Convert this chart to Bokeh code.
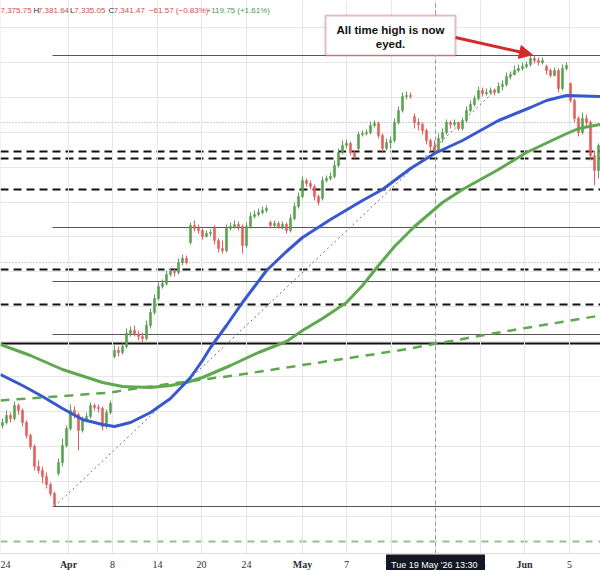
from bokeh.plotting import figure
from bokeh.models import (Range1d, FixedTicker, Span, Label, BoxAnnotation, Arrow,
                          NormalHead, ColumnDataSource, Grid)
from bokeh.embed import file_html
from bokeh.resources import INLINE

# ---------------- data (price units, one candle per bar) ----------------
opens = [6501, 6510, 6531, 6522, 6561, 6546, 6510, 6471, 6438, 6378,
         6366, 6348, 6324, 6297, 6357, 6390, 6441, 6492, 6546, 6534,
         6486, 6516, 6528, 6561, 6555, 6552, 6498, 6540, 6708, 6726,
         6720, 6738, 6777, 6786, 6774, 6768, 6762, 6801, 6840, 6882,
         6918, 6927, 6954, 6963, 6960, 6990, 7002, 7050, 7101, 7092,
         7086, 7068, 7077, 7092, 7056, 7032, 7026, 7092, 7098, 7104,
         7098, 7041, 7098, 7128, 7134, 7140, 7146, 7110, 7101, 7107,
         7098, 7104, 7086, 7122, 7158, 7188, 7236, 7227, 7218, 7188,
         7182, 7236, 7242, 7248, 7281, 7320, 7341, 7347, 7320, 7332,
         7374, 7377, 7380, 7401, 7407, 7371, 7332, 7350, 7356, 7410,
         7446, 7488, 7491, 7428, 7410, 7404, 7386, 7356, 7338, 7326,
         7362, 7380, 7410, 7404, 7410, 7392, 7416, 7446, 7464, 7482,
         7506, 7497, 7500, 7506, 7500, 7518, 7524, 7548, 7554, 7566,
         7572, 7578, 7584, 7602, 7596, 7590, 7578, 7566, 7551, 7566,
         7512, 7572, 7527, 7476, 7422, 7380, 7422, 7410, 7311, 7266]
closes = [6510, 6531, 6522, 6561, 6546, 6510, 6471, 6438, 6378, 6366,
          6348, 6324, 6297, 6264, 6390, 6441, 6492, 6546, 6534, 6486,
          6516, 6528, 6561, 6555, 6552, 6498, 6540, 6567, 6726, 6720,
          6738, 6777, 6786, 6774, 6768, 6762, 6801, 6840, 6882, 6918,
          6927, 6954, 6963, 6960, 6990, 7002, 6990, 7101, 7092, 7086,
          7068, 7077, 7080, 7056, 7032, 7026, 7092, 7098, 7104, 7098,
          7041, 7098, 7128, 7134, 7140, 7146, 7152, 7101, 7107, 7098,
          7104, 7086, 7122, 7158, 7188, 7236, 7227, 7218, 7188, 7170,
          7236, 7242, 7248, 7281, 7320, 7341, 7347, 7320, 7308, 7374,
          7377, 7380, 7401, 7407, 7371, 7332, 7350, 7356, 7410, 7446,
          7488, 7491, 7488, 7410, 7404, 7386, 7356, 7338, 7326, 7362,
          7380, 7410, 7404, 7410, 7392, 7416, 7446, 7464, 7482, 7506,
          7497, 7500, 7506, 7500, 7518, 7524, 7548, 7554, 7566, 7572,
          7578, 7584, 7602, 7596, 7590, 7596, 7566, 7551, 7566, 7512,
          7572, 7581, 7476, 7422, 7380, 7422, 7410, 7311, 7266, 7341]
highs = [6522, 6546, 6540, 6573, 6567, 6552, 6516, 6477, 6444, 6396,
         6378, 6360, 6330, 6303, 6402, 6462, 6501, 6564, 6558, 6540,
         6528, 6540, 6570, 6567, 6564, 6558, 6549, 6576, 6741, 6738,
         6747, 6792, 6798, 6801, 6786, 6780, 6816, 6852, 6894, 6930,
         6939, 6966, 6972, 6972, 7002, 7014, 7011, 7110, 7116, 7104,
         7092, 7086, 7089, 7101, 7062, 7056, 7104, 7110, 7116, 7113,
         7104, 7110, 7140, 7146, 7152, 7158, 7161, 7116, 7116, 7113,
         7113, 7110, 7134, 7170, 7200, 7248, 7242, 7236, 7224, 7194,
         7248, 7251, 7260, 7296, 7332, 7356, 7359, 7353, 7326, 7383,
         7386, 7389, 7413, 7416, 7413, 7377, 7362, 7368, 7422, 7458,
         7500, 7503, 7500, 7437, 7422, 7410, 7392, 7362, 7356, 7377,
         7392, 7419, 7416, 7419, 7413, 7425, 7458, 7476, 7491, 7518,
         7515, 7512, 7515, 7512, 7530, 7536, 7560, 7563, 7581, 7584,
         7590, 7593, 7611, 7611, 7605, 7605, 7584, 7572, 7575, 7572,
         7584, 7590, 7530, 7482, 7428, 7440, 7434, 7416, 7326, 7347]
lows = [6492, 6504, 6510, 6516, 6534, 6498, 6462, 6429, 6366, 6357,
        6327, 6312, 6288, 6258, 6351, 6378, 6435, 6486, 6522, 6426,
        6480, 6510, 6522, 6546, 6540, 6486, 6492, 6534, 6702, 6708,
        6714, 6732, 6768, 6768, 6756, 6750, 6756, 6792, 6834, 6876,
        6912, 6921, 6948, 6948, 6954, 6981, 6984, 7044, 7083, 7077,
        7059, 7065, 7068, 7044, 7020, 7017, 7020, 7086, 7092, 7086,
        7017, 7035, 7092, 7122, 7128, 7134, 7140, 7092, 7095, 7092,
        7089, 7077, 7080, 7116, 7152, 7182, 7218, 7209, 7176, 7161,
        7176, 7230, 7236, 7242, 7275, 7314, 7332, 7311, 7302, 7326,
        7368, 7371, 7374, 7395, 7362, 7320, 7326, 7332, 7350, 7404,
        7440, 7479, 7482, 7392, 7386, 7374, 7344, 7326, 7320, 7320,
        7350, 7374, 7392, 7398, 7386, 7386, 7410, 7440, 7458, 7476,
        7488, 7491, 7494, 7491, 7497, 7506, 7518, 7539, 7551, 7560,
        7566, 7572, 7578, 7587, 7581, 7584, 7554, 7545, 7548, 7500,
        7506, 7566, 7470, 7410, 7368, 7374, 7398, 7296, 7221, 7242]

# moving averages sampled at bar positions
ma_blue_x = [-0.5, 5, 10, 15, 20, 25, 28, 32, 37, 42, 47, 50, 52, 56, 60, 63, 66, 71,
             75, 82, 90, 95, 102, 108, 115, 124, 132, 136, 141, 149.5]
ma_blue = [6654, 6621, 6588, 6552, 6519, 6504, 6498, 6510, 6540, 6582, 6645, 6696,
           6735, 6801, 6870, 6918, 6966, 7023, 7065, 7119, 7176, 7209, 7272, 7317,
           7356, 7416, 7455, 7476, 7491, 7488]
ma_green_x = [-0.5, 7, 15, 25, 30, 37, 42, 46, 50, 57, 64, 71, 75, 80, 86, 90, 94, 98,
              103, 110, 115, 124, 131, 140, 144, 149.5]
ma_green = [6744, 6711, 6669, 6630, 6618, 6615, 6621, 6630, 6645, 6681, 6720, 6753,
            6786, 6822, 6870, 6921, 6981, 7038, 7098, 7170, 7209, 7269, 7320, 7371,
            7392, 7404]
ma_long_x = [-0.5, 17, 27, 35, 50, 58, 71, 99, 124, 149.5]
ma_long = [6576, 6591, 6600, 6615, 6639, 6651, 6675, 6726, 6780, 6831]

# trend line from the low to near the high
trend_x = [13, 129]
trend_y = [6258, 7572]

# horizontal levels
levels_dashed = [7323, 7302, 7209, 6969, 6864]
levels_thin = [7611, 7095, 6933, 6774, 6258]
levels_dotted = [7410, 6990]
level_thick = 6747
level_green_dashed = 6153

# x axis ticks (bar positions) and their labels
tick_pos = [-0.5, 16.5, 27.5, 38.75, 49.75, 61, 75, 86, 97.25, 108.25, 119.5, 130.5, 141.75]
tick_labels = ["24", "Apr", "8", "14", "20", "24", "May", "7", "13", "19", "25", "Jun", "5"]
grid_y = [7695, 7590, 7485, 7380, 7275, 7170, 7068, 6963, 6858, 6753, 6648, 6543, 6438, 6333, 6228]
crosshair_x = 108.25
crosshair_text = "Tue 19 May '26  13:30"

# OHLC readout of the last bar
hdr_open, hdr_high, hdr_low, hdr_close = "7,375.75", "7,381.64", "7,335.05", "7,341.47"
hdr_chg, hdr_day = "\u221261.57 (\u22120.83%)", "+119.75 (+1.61%)"

Y0, Y1 = 6066, 7776       # full canvas price span
AXIS_TOP = 6117           # where the date strip starts
LABEL_Y = 6084            # centre line of the date labels

UP = "#5b9e54"
DOWN = "#e0605e"
FONT = "Liberation Sans"

p = figure(width=600, height=570, x_range=Range1d(-0.5, 149.5), y_range=Range1d(Y0, Y1),
           output_backend="svg", toolbar_location=None, min_border=0,
           x_axis_location=None, y_axis_location=None, outline_line_color=None,
           background_fill_color="white", border_fill_color="white")
p.xgrid.visible = False
p.ygrid.visible = False

# horizontal grid
p.add_layout(Grid(dimension=1, ticker=FixedTicker(ticks=grid_y), grid_line_color="#e6e6e6"))

# vertical grid lines (stop at the date strip)
p.segment(x0=tick_pos, x1=tick_pos, y0=[AXIS_TOP] * len(tick_pos), y1=[Y1] * len(tick_pos),
          line_color="#e6e6e6", line_width=1)

# horizontal levels
for lv in levels_dashed:
    p.add_layout(Span(location=lv, dimension="width", line_color="#111111", line_width=2,
                      line_dash="8 5", level="underlay"))
for lv in levels_dotted:
    p.add_layout(Span(location=lv, dimension="width", line_color="#9a9a9a", line_width=1,
                      line_dash="1 2", level="underlay"))
p.add_layout(Span(location=level_thick, dimension="width", line_color="#111111", line_width=2,
                  level="underlay"))
p.add_layout(Span(location=level_green_dashed, dimension="width", line_color="#98c08e",
                  line_width=2, line_dash="7 6", level="underlay"))
p.segment(x0=[12.5] * len(levels_thin), x1=[149.5] * len(levels_thin),
          y0=levels_thin, y1=levels_thin, line_color="#555555", line_width=1)

# crosshair
p.segment(x0=[crosshair_x], x1=[crosshair_x], y0=[AXIS_TOP], y1=[Y1], line_color="#9598a1",
          line_width=1, line_dash="4 3")

# trend line
p.line(trend_x, trend_y, line_color="#707070", line_width=1, line_dash="2 3")

# candles
idx = list(range(len(closes)))
colors = [UP if c >= o else DOWN for o, c in zip(opens, closes)]
src = ColumnDataSource(dict(x=idx, o=opens, c=closes, h=highs, l=lows,
                            top=[max(o, c) for o, c in zip(opens, closes)],
                            bot=[min(o, c) for o, c in zip(opens, closes)], col=colors))
p.segment(x0="x", x1="x", y0="l", y1="h", line_color="col", line_width=1, source=src)
p.vbar(x="x", width=0.55, top="top", bottom="bot", fill_color="col", line_color="col",
       line_width=0.5, source=src)

# moving averages
p.line(ma_long_x, ma_long, line_color="#5ea84f", line_width=2.5, line_dash="9 7")
p.line(ma_green_x, ma_green, line_color="#5ea84f", line_width=3)
p.line(ma_blue_x, ma_blue, line_color="#3858d0", line_width=3)

# date strip: separator and tick labels
p.segment(x0=[-0.5], x1=[149.5], y0=[AXIS_TOP], y1=[AXIS_TOP], line_color="#dcdcdc", line_width=1)
months = {"Apr", "May", "Jun"}
day_x = [t for t, l in zip(tick_pos[1:], tick_labels[1:]) if l not in months]
day_t = [l for l in tick_labels[1:] if l not in months]
mon_x = [t for t, l in zip(tick_pos, tick_labels) if l in months]
mon_t = [l for l in tick_labels if l in months]
p.text(x=day_x, y=[LABEL_Y] * len(day_x), text=day_t, text_align="center",
       text_baseline="middle", text_font=FONT, text_font_size="10px", text_color="#2a2e39")
p.text(x=mon_x, y=[LABEL_Y] * len(mon_x), text=mon_t, text_align="center",
       text_baseline="middle", text_font=FONT, text_font_size="10px", text_font_style="bold",
       text_color="#2a2e39")
p.text(x=tick_pos[:1], y=[LABEL_Y], text=tick_labels[:1], text_align="left",
       text_baseline="middle", text_font=FONT, text_font_size="10px", text_color="#2a2e39")

# crosshair date tooltip
p.add_layout(Label(x=crosshair_x, y=LABEL_Y, text=crosshair_text, text_align="center",
                   text_baseline="middle", text_font=FONT, text_font_size="9px",
                   text_color="white", background_fill_color="#131722",
                   background_fill_alpha=1, padding=5))

# annotation box + arrow
p.add_layout(BoxAnnotation(left=80.75, right=113.25, top=7731, bottom=7611,
                           fill_color="white", fill_alpha=1, line_color="#a3262a",
                           line_width=2, level="annotation"))
p.add_layout(Label(x=97, y=7689, text="All time high is now", text_align="center",
                   text_baseline="middle", text_font=FONT, text_font_style="bold",
                   text_font_size="11.5px", text_color="#111111"))
p.add_layout(Label(x=97, y=7646, text="eyed.", text_align="center",
                   text_baseline="middle", text_font=FONT, text_font_style="bold",
                   text_font_size="11.5px", text_color="#111111"))
p.add_layout(Arrow(end=NormalHead(size=13, fill_color="#d42a2a", line_color="#d42a2a"),
                   x_start=113.25, y_start=7665, x_end=132.5, y_end=7613,
                   line_color="#d42a2a", line_width=3))

# header (OHLC readout)
RED = "#d0504c"
GREEN = "#4f9a4f"
DARK = "#2a2e39"
hdr = [(-0.5, hdr_open, RED), (7.75, "H", DARK), (8.85, hdr_high, RED),
       (16.9, "L", DARK), (17.95, hdr_low, RED), (26.5, "C", DARK),
       (27.8, hdr_close, RED), (36.6, hdr_chg, RED), (51.0, hdr_day, GREEN)]
for x, t, col in hdr:
    p.add_layout(Label(x=x, y=7746, text=t, text_align="left", text_baseline="middle",
                       text_font=FONT, text_font_size="8px", text_color=col))

open("out.html", "w").write(file_html(p, INLINE))
